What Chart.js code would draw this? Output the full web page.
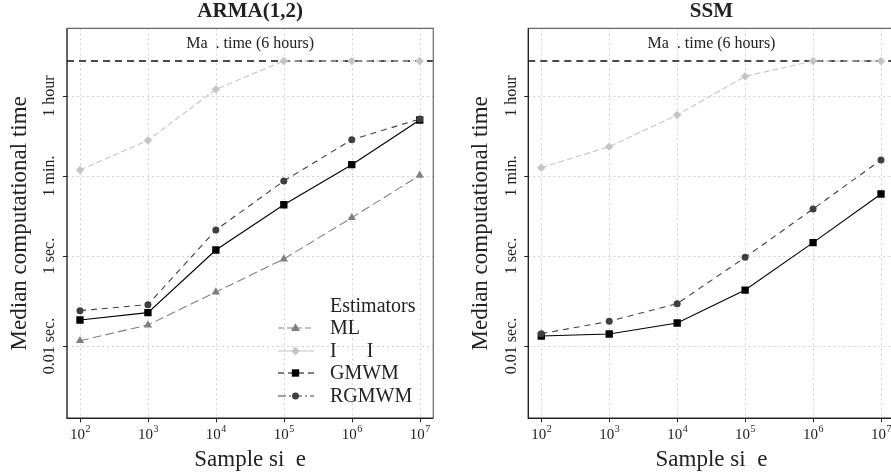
<!DOCTYPE html>
<html><head><meta charset="utf-8">
<script src="https://cdn.jsdelivr.net/npm/chart.js@4.4.1/dist/chart.umd.min.js"></script>
<style>
html,body{margin:0;padding:0;background:#fff;overflow:hidden;}
#wrap{position:relative;width:891px;height:475px;overflow:hidden;background:#fff;}
canvas{position:absolute;top:0;}
#c1{left:0;}
#c2{left:445px;}
</style></head><body>
<div id="wrap">
<canvas id="c1" width="445" height="475"></canvas>
<canvas id="c2" width="461" height="475"></canvas>
</div>
<script>
// ---------- data ----------
const sampleSizes = [1e2, 1e3, 1e4, 1e5, 1e6, 1e7];
const xTickExponents = [2, 3, 4, 5, 6, 7];
const yTickValues = [0.01, 1, 60, 3600];
const yTickLabels = ['0.01 sec.', '1 sec.', '1 min.', '1 hour'];
const maxTime = 21600;
const maxTimeLabel = 'Ma\u2002. time (6 hours)';
const seriesNames = ['ML', 'I\u2003\u2002I', 'GMWM', 'RGMWM'];
const panelTitles = ['ARMA(1,2)', 'SSM'];

const armaML    = [0.0131, 0.0293, 0.158, 0.857, 7.1, 62];
const armaII    = [81.5, 372, 5060, 21600, 21600, 21600];
const armaGMWM  = [0.0378, 0.055, 1.36, 13.8, 107, 1052];
const armaRGMWM = [0.061, 0.083, 3.78, 46.4, 384, 1107];

const ssmII     = [91.8, 269, 1360, 9840, 21600, 21600];
const ssmGMWM   = [0.0167, 0.0185, 0.0325, 0.175, 1.98, 23.9];
const ssmRGMWM  = [0.0188, 0.0353, 0.0872, 0.934, 11.1, 136];

// ---------- styles ----------
const FONT = '"Liberation Serif","DejaVu Serif",serif';
const STY = {
  ML:    {color:'#7f7f7f', dash:[9,4], point:'triangle', r:4.8, legendDash:[6,3]},
  II:    {color:'#c4c4c4', dash:[6,3], point:'rectRot', r:4.2, legendDash:[]},
  GMWM:  {color:'#000000', dash:[],    point:'rect', r:5.2, legendDash:[6,4]},
  RGMWM: {color:'#3f3f3f', dash:[6,5], point:'circle', r:3.5, legendDash:[8,3,2,3]}
};

function mk(name, label, arr){
  const s = STY[name];
  return {
    label: label,
    data: sampleSizes.map((x,i)=>({x:x, y:arr[i]})),
    borderColor: s.color, backgroundColor: s.color,
    borderWidth: 1.1, borderDash: s.dash,
    pointStyle: s.point, pointRadius: s.r, pointBorderWidth: 0,
    pointBackgroundColor: s.color, pointBorderColor: s.color,
    tension: 0, fill: false
  };
}

function drawMarker(ctx, style, x, y, r, color){
  ctx.save();
  ctx.fillStyle = color;
  ctx.beginPath();
  if (style === 'circle') { ctx.arc(x, y, r, 0, Math.PI*2); }
  else if (style === 'rect') { const s = r*Math.SQRT1_2; ctx.rect(x-s, y-s, 2*s, 2*s); }
  else if (style === 'rectRot') { ctx.moveTo(x, y-r); ctx.lineTo(x+r, y); ctx.lineTo(x, y+r); ctx.lineTo(x-r, y); ctx.closePath(); }
  else if (style === 'triangle') { ctx.moveTo(x, y-r); ctx.lineTo(x+r*0.95, y+r*0.6); ctx.lineTo(x-r*0.95, y+r*0.6); ctx.closePath(); }
  ctx.fill();
  ctx.restore();
}

function decor(title, showLegend){
  return {
    id: 'decor',
    beforeDatasetsDraw(chart){
      const ctx = chart.ctx, a = chart.chartArea, xs = chart.scales.x, ys = chart.scales.y;
      ctx.save();
      ctx.strokeStyle = '#d0d0d0'; ctx.lineWidth = 1; ctx.setLineDash([2,3]);
      sampleSizes.forEach(v => { const px = Math.round(xs.getPixelForValue(v))+0.5;
        ctx.beginPath(); ctx.moveTo(px, a.top); ctx.lineTo(px, a.bottom); ctx.stroke(); });
      yTickValues.forEach(v => { const py = Math.round(ys.getPixelForValue(v))+0.5;
        ctx.beginPath(); ctx.moveTo(a.left, py); ctx.lineTo(a.right, py); ctx.stroke(); });
      const my = ys.getPixelForValue(maxTime);
      ctx.strokeStyle = '#111'; ctx.lineWidth = 1.4; ctx.setLineDash([7,5]);
      ctx.beginPath(); ctx.moveTo(a.left, my); ctx.lineTo(a.right, my); ctx.stroke();
      ctx.setLineDash([]);
      ctx.fillStyle = '#222'; ctx.font = '16px ' + FONT; ctx.textAlign = 'center'; ctx.textBaseline = 'middle';
      ctx.fillText(maxTimeLabel, (a.left + a.right)/2, a.top + 15);
      ctx.restore();
    },
    afterDatasetsDraw(chart){
      const ctx = chart.ctx, a = chart.chartArea, xs = chart.scales.x, ys = chart.scales.y;
      ctx.save();
      ctx.setLineDash([]);
      ctx.strokeStyle = '#666'; ctx.lineWidth = 1.2;
      ctx.beginPath(); ctx.moveTo(a.left, a.top); ctx.lineTo(a.right, a.top); ctx.lineTo(a.right, a.bottom); ctx.stroke();
      ctx.strokeStyle = '#222'; ctx.lineWidth = 1.4;
      ctx.beginPath(); ctx.moveTo(a.left, a.top); ctx.lineTo(a.left, a.bottom); ctx.lineTo(a.right, a.bottom); ctx.stroke();
      ctx.lineWidth = 1; ctx.strokeStyle = '#222';
      sampleSizes.forEach(v => { const px = Math.round(xs.getPixelForValue(v))+0.5;
        ctx.beginPath(); ctx.moveTo(px, a.bottom); ctx.lineTo(px, a.bottom + 4); ctx.stroke(); });
      yTickValues.forEach(v => { const py = Math.round(ys.getPixelForValue(v))+0.5;
        ctx.beginPath(); ctx.moveTo(a.left, py); ctx.lineTo(a.left - 4, py); ctx.stroke(); });
      ctx.fillStyle = '#222'; ctx.textBaseline = 'alphabetic';
      xTickExponents.forEach((e, i) => {
        const px = xs.getPixelForValue(sampleSizes[i]);
        ctx.font = '15px ' + FONT; const w1 = ctx.measureText('10').width;
        ctx.font = '10px ' + FONT; const w2 = ctx.measureText(String(e)).width;
        const x0 = px - (w1 + w2)/2;
        ctx.textAlign = 'left';
        ctx.font = '15px ' + FONT; ctx.fillText('10', x0, a.bottom + 21);
        ctx.font = '10px ' + FONT; ctx.fillText(String(e), x0 + w1 + 0.5, a.bottom + 14);
      });
      ctx.font = '16px ' + FONT; ctx.textAlign = 'center'; ctx.textBaseline = 'middle';
      yTickValues.forEach((v, i) => {
        const py = ys.getPixelForValue(v);
        ctx.save(); ctx.translate(a.left - 17, py); ctx.rotate(-Math.PI/2);
        ctx.fillText(yTickLabels[i], 0, 0); ctx.restore();
      });
      ctx.font = '23px ' + FONT;
      ctx.save(); ctx.translate(a.left - 47, (a.top + a.bottom)/2); ctx.rotate(-Math.PI/2);
      ctx.fillText('Median computational time', 0, 0); ctx.restore();
      ctx.fillText('Sample si\u2002e', (a.left + a.right)/2, a.bottom + 42);
      ctx.font = 'bold 21px ' + FONT;
      ctx.fillText(title, (a.left + a.right)/2, 12);
      if (showLegend) {
        ctx.textAlign = 'left';
        ctx.font = '20px ' + FONT;
        ctx.fillText('Estimators', 330, 307);
        const keys = ['ML','II','GMWM','RGMWM'];
        const ys0 = [328, 351, 373, 396];
        keys.forEach((k, i) => {
          const s = STY[k], y = ys0[i];
          ctx.save();
          ctx.strokeStyle = s.color; ctx.lineWidth = 1.2; ctx.setLineDash(s.legendDash);
          ctx.beginPath(); ctx.moveTo(278, y); ctx.lineTo(314, y); ctx.stroke();
          ctx.restore();
          drawMarker(ctx, s.point, 295.5, y, s.r, s.color);
          ctx.fillStyle = '#222';
          ctx.fillText(seriesNames[i], 330, y + 1);
        });
      }
      ctx.restore();
    }
  };
}

function makeChart(id, title, datasets, padLeft, showLegend){
  const el = document.getElementById(id);
  return new Chart(el, {
    type: 'line',
    data: { datasets: datasets },
    options: {
      responsive: false, animation: false, devicePixelRatio: 1,
      layout: { padding: { left: padLeft, right: el.width - padLeft - 366.3, top: 28.3, bottom: 475 - 418.3 } },
      plugins: { legend: { display: false }, tooltip: { enabled: false }, title: { display: false } },
      scales: {
        x: { type: 'logarithmic', min: 64.4, max: 1.585e7, display: false },
        y: { type: 'logarithmic', min: 2.47e-4, max: 1.15e5, display: false }
      }
    },
    plugins: [decor(title, showLegend)]
  });
}

makeChart('c1', panelTitles[0], [
  mk('II', seriesNames[1], armaII),
  mk('ML', seriesNames[0], armaML),
  mk('RGMWM', seriesNames[3], armaRGMWM),
  mk('GMWM', seriesNames[2], armaGMWM)
], 67, true);

makeChart('c2', panelTitles[1], [
  mk('II', seriesNames[1], ssmII),
  mk('RGMWM', seriesNames[3], ssmRGMWM),
  mk('GMWM', seriesNames[2], ssmGMWM)
], 83.3, false);
</script>
</body></html>
